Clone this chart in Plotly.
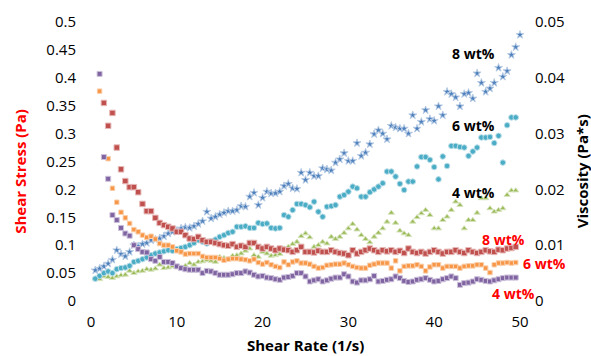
import plotly.graph_objects as go

# Shear rate grid (1/s)
shear_rate = [0.5, 1.0, 1.5, 2.0, 2.5, 3.0, 3.5, 4.0, 4.5, 5.0,
              5.5, 6.0, 6.5, 7.0, 7.5, 8.0, 8.5, 9.0, 9.5, 10.0,
              10.5, 11.0, 11.5, 12.0, 12.5, 13.0, 13.5, 14.0, 14.5, 15.0,
              15.5, 16.0, 16.5, 17.0, 17.5, 18.0, 18.5, 19.0, 19.5, 20.0,
              20.5, 21.0, 21.5, 22.0, 22.5, 23.0, 23.5, 24.0, 24.5, 25.0,
              25.5, 26.0, 26.5, 27.0, 27.5, 28.0, 28.5, 29.0, 29.5, 30.0,
              30.5, 31.0, 31.5, 32.0, 32.5, 33.0, 33.5, 34.0, 34.5, 35.0,
              35.5, 36.0, 36.5, 37.0, 37.5, 38.0, 38.5, 39.0, 39.5, 40.0,
              40.5, 41.0, 41.5, 42.0, 42.5, 43.0, 43.5, 44.0, 44.5, 45.0,
              45.5, 46.0, 46.5, 47.0, 47.5, 48.0, 48.5, 49.0, 49.5, 50.0]

# Shear stress (Pa), left axis
stress_8 = [.055, .058, .062, .067, .074, .091, .084, .080, .088, .100,
            .098, .102, .104, .109, .110, .112, .116, .121, .124, .126,
            .130, .132, .131, .134, .138, .143, .160, .148, .151, .155,
            .158, .161, .161, .163, .170, .169, .187, .194, .172, .185,
            .196, .193, .193, .196, .206, .210, .202, .201, .230, .217,
            .230, .224, .224, .238, .236, .234, .248, .254, .265, .251,
            .251, .283, .260, .266, .281, .299, .306, .300, .290, .314,
            .311, .309, .309, .300, .333, .309, .321, .342, .326, .323,
            .349, .333, .375, .371, .365, .349, .371, .373, .363, .408,
            .391, .375, .381, .391, .418, .402, .412, .441, .455, .477]
stress_6 = [.040, .045, .050, .053, .050, .057, .059, .060, .063, .070,
            .072, .075, .078, .082, .085, .087, .089, .091, .090, .093,
            .095, .097, .100, .104, .109, .106, .103, .107, .110, .115,
            .118, .122, .124, .133, .133, .134, .131, .131, .140, .138,
            .139, .131, .130, .131, .154, .151, .163, .174, .174, .172,
            .168, .178, .160, .151, .169, .170, .172, .187, .190, .196,
            .205, .202, .187, .187, .195, .200, .205, .211, .232, .232,
            .223, .210, .199, .214, .214, .241, .258, .258, .253, .240,
            .218, .259, .242, .278, .278, .276, .275, .260, .268, .275,
            .293, .293, .294, .283, .296, .248, .315, .329, .329, None]
stress_4 = [.040, .039, .044, .043, .041, .044, .046, .047, .054, .050,
            .053, .054, .057, .056, .058, .065, .059, .060, .062, .061,
            .060, .063, .068, .065, .070, .071, .073, .072, .070, .079,
            .077, .075, .081, .082, .085, .090, .094, .082, .079, .088,
            .085, .081, .082, .084, .094, .097, .102, .106, .116, .121,
            .114, .097, .100, .106, .103, .115, .111, .115, .122, .130,
            .138, .128, .118, .111, .105, .115, .122, .130, .142, .158,
            .140, .126, .121, .118, .142, .150, .157, .163, .154, .130,
            .130, .145, .151, .163, .178, .172, .130, .145, .145, .158,
            .184, .184, .166, .160, .163, .166, .190, .198, .198, None]

# Viscosity (Pa*s), right axis
visc_8 = [None, None, .0355, .0314, .0337, .0275, .0236, .0215, .0204, .0204,
          .0195, .0174, .0161, .0161, .0149, .0140, .0136, .0133, .0130, .0124,
          .0124, .0118, .0112, .0111, .0115, .0109, .0106, .0106, .0104, .0102,
          .0100, .0099, .0102, .0097, .0099, .0097, .0104, .0104, .0097, .0094,
          .0097, .0094, .0091, .0094, .0092, .0091, .0088, .0091, .0097, .0088,
          .0088, .0087, .0090, .0088, .0088, .0091, .0088, .0086, .0085, .0082,
          .0091, .0085, .0088, .0091, .0094, .0091, .0088, .0091, .0089, .0091,
          .0088, .0090, .0086, .0094, .0088, .0086, .0088, .0085, .0088, .0091,
          .0088, .0085, .0088, .0088, .0091, .0088, .0086, .0091, .0088, .0086,
          .0088, .0091, .0089, .0088, .0092, .0091, .0094, .0095, .0097, None]
visc_6 = [None, .0376, .0258, .0255, .0202, .0177, .0159, .0149, .0139, .0128,
          .0124, .0118, .0114, .0116, .0111, .0103, .0100, .0100, .0097, .0090,
          .0088, .0084, .0085, .0085, .0085, .0080, .0078, .0078, .0078, .0076,
          .0073, .0075, .0076, .0076, .0075, .0074, .0072, .0075, .0069, .0066,
          .0069, .0065, .0062, .0060, .0070, .0065, .0070, .0072, .0068, .0068,
          .0066, .0062, .0059, .0060, .0064, .0065, .0066, .0066, .0068, .0065,
          .0062, .0060, .0059, .0059, .0064, .0066, .0068, .0068, .0068, .0059,
          .0072, .0054, .0062, .0063, .0063, .0065, .0062, .0054, .0061, .0065,
          .0065, .0059, .0062, .0062, .0062, .0059, .0062, .0063, .0063, .0065,
          .0065, .0059, .0051, .0065, .0068, .0068, .0069, .0068, .0069, None]
visc_4 = [None, .0407, .0258, .0219, .0154, .0145, .0131, .0121, .0117, .0100,
          .0093, .0088, .0087, .0075, .0072, .0079, .0070, .0070, .0068, .0062,
          .0059, .0057, .0056, .0056, .0056, .0050, .0054, .0053, .0050, .0047,
          .0047, .0047, .0048, .0050, .0050, .0053, .0051, .0047, .0044, .0045,
          .0042, .0041, .0039, .0038, .0042, .0043, .0045, .0050, .0050, .0044,
          .0035, .0037, .0039, .0035, .0037, .0040, .0042, .0042, .0048, .0044,
          .0035, .0033, .0037, .0037, .0039, .0045, .0035, .0036, .0038, .0039,
          .0044, .0041, .0036, .0034, .0035, .0038, .0039, .0041, .0038, .0035,
          .0036, .0039, .0041, .0044, .0041, .0029, .0032, .0033, .0035, .0039,
          .0038, .0036, .0035, .0037, .0039, .0041, .0042, .0042, .0042, None]

# small grey marks seen on the original
mark_x = [0.0, 0.25, 50.1]
mark_y = [0.493, 0.0, 0.495]

FONT = "Open Sans"
fig = go.Figure()

def add(x, y, color, symbol, size, halo, axis="y"):
    fig.add_trace(go.Scatter(
        x=x, y=y, mode="markers", yaxis=axis, cliponaxis=False,
        marker=dict(color=color, symbol=symbol, size=size,
                    line=dict(color=halo, width=1)),
        showlegend=False, hoverinfo="skip"))

add(shear_rate, visc_8, "#C0504D", "square", 5.5, "#E6B9B8", "y2")
add(shear_rate, visc_6, "#F79646", "square", 4.5, "#FAD0AE", "y2")
add(shear_rate, visc_4, "#8064A2", "square", 5, "#CCC1DA", "y2")
add(shear_rate, stress_4, "#9BBB59", "triangle-up", 5.5, "#D7E4BD")
add(shear_rate, stress_6, "#4BACC6", "circle", 5.5, "#B7DEE8")
add(shear_rate, stress_8, "#4F81BD", "star", 6, "#B9CDE5")

fig.add_trace(go.Scatter(x=mark_x, y=mark_y, mode="markers", cliponaxis=False,
                         marker=dict(color="rgba(0,0,0,0)", symbol="square-open", size=6,
                                     line=dict(color="#A6A6A6", width=1.5)),
                         showlegend=False, hoverinfo="skip"))

lab_black = dict(family=FONT, size=14, color="#000000")
lab_red = dict(family=FONT, size=14, color="#FF0000")
ann = [
    dict(x=44.6, y=0.444, text="<b>8 wt%</b>", font=lab_black),
    dict(x=44.6, y=0.314, text="<b>6 wt%</b>", font=lab_black),
    dict(x=44.6, y=0.195, text="<b>4 wt%</b>", font=lab_black),
    dict(x=48.1, y=0.111, text="<b>8 wt%</b>", font=lab_red),
    dict(x=49.3, y=0.014, text="<b>4 wt%</b>", font=lab_red),
]
for a in ann:
    a.update(xref="x", yref="y", showarrow=False, xanchor="center", yanchor="middle")

title_font = dict(family=FONT, size=15)
ann += [
    dict(x=1.056, y=0.136, xref="paper", yref="paper", showarrow=False,
         text="<b>6 wt%</b>", font=lab_red, xanchor="center", yanchor="middle"),
    dict(x=0.501, y=-0.158, xref="paper", yref="paper", showarrow=False,
         text="<b>Shear Rate (1/s)</b>", font=dict(**title_font, color="#000000"),
         xanchor="center", yanchor="middle"),
    dict(x=-0.166, y=0.466, xref="paper", yref="paper", showarrow=False, textangle=-90,
         text="<b>Shear Stress (Pa)</b>", font=dict(**title_font, color="#FF0000"),
         xanchor="center", yanchor="middle"),
    dict(x=1.1445, y=0.465, xref="paper", yref="paper", showarrow=False, textangle=-90,
         text="<b>Viscosity (Pa*s)</b>", font=dict(**title_font, color="#000000"),
         xanchor="center", yanchor="middle"),
]

tick_font = dict(family=FONT, size=15, color="#000000")
fig.update_layout(
    width=591, height=356,
    margin=dict(l=91, r=71, t=22, b=55),
    paper_bgcolor="white", plot_bgcolor="white",
    annotations=ann,
    xaxis=dict(range=[0, 50], dtick=10, showgrid=False, zeroline=False, showline=False,
               ticks="", tickfont=tick_font, ticklabelstandoff=10),
    yaxis=dict(range=[0, 0.5], dtick=0.05, showgrid=False, zeroline=False, showline=False,
               ticks="", tickfont=tick_font, ticklabelstandoff=14),
    yaxis2=dict(range=[0, 0.05], dtick=0.01, overlaying="y", side="right",
                showgrid=False, zeroline=False, showline=False, ticks="",
                tickfont=tick_font, ticklabelstandoff=14),
)

fig.write_html("out.html", config={"displayModeBar": False},
               post_script="document.body.style.margin='0px';document.body.style.overflow='hidden';")
